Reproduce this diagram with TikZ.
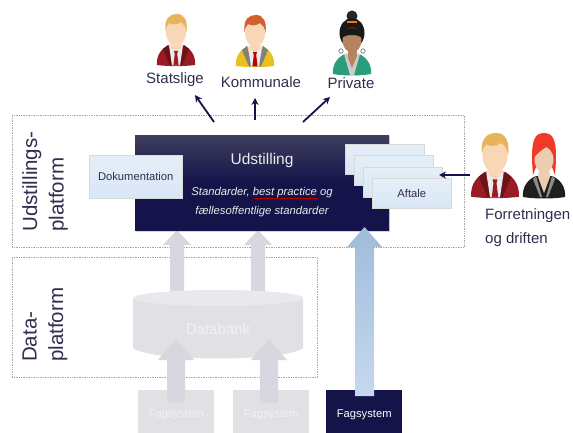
\documentclass[tikz,border=0pt]{standalone}
\usepackage{fontspec}
\setmainfont{Liberation Sans}
\usetikzlibrary{arrows.meta,shadows}
\definecolor{ink}{HTML}{2E2E4E}
\definecolor{navy}{HTML}{14144A}
\definecolor{navytop}{HTML}{3E3E5E}
\definecolor{paleblue}{HTML}{D8E6F5}
\definecolor{greyarrow}{HTML}{D7D7DF}
\definecolor{greybox}{HTML}{E0E0E5}
\definecolor{greytop}{HTML}{E9E9ED}
\definecolor{skin}{HTML}{F8D6B6}
\definecolor{fadetxt}{HTML}{F2F2F5}
\definecolor{gold}{HTML}{E6B45A}
\definecolor{copper}{HTML}{D0602F}
\definecolor{wine}{HTML}{9A1B25}
\definecolor{winedark}{HTML}{6E1218}
\definecolor{mustard}{HTML}{E8C020}
\definecolor{tealgreen}{HTML}{2A9D7C}
\definecolor{brownskin}{HTML}{B5835F}
\definecolor{vivid}{HTML}{F03A28}
\definecolor{arrowtop}{RGB}{160,188,218}
\definecolor{arrowbot}{RGB}{198,216,238}
\tikzset{
  platform/.style={draw=black!35,densely dotted,line width=0.7pt},
  bluebox/.style={draw=white!85!black,line width=0.5pt,top color=paleblue!65!white,bottom color=paleblue,text=ink,font=\fontsize{11.2}{13}\selectfont,inner sep=0pt,anchor=north west,align=center},
  sys/.style={anchor=north west,minimum width=76pt,minimum height=43pt,inner sep=0pt,font=\fontsize{11.2}{13}\selectfont},
  ptr/.style={-{Stealth[length=7pt,width=7pt]},draw=navy,line width=1.8pt},
  lbl/.style={text=ink,font=\fontsize{15}{18}\selectfont,inner sep=0pt},
  side/.style={text=ink,font=\fontsize{20.5}{26.5}\selectfont,rotate=90,align=left,inner sep=0pt,anchor=west}
}
% x, y, scale, hair, jacket, lapel, tie
\newcommand{\manfig}[7]{%
\begin{scope}[shift={(#1,#2)},scale=#3]
 \fill[#5] (-19,51) .. controls (-20,41) and (-14,34) .. (-7,31) -- (7,31) .. controls (14,34) and (20,41) .. (19,51) .. controls (8,52.5) and (-8,52.5) .. (-19,51) -- cycle;
 \fill[#6] (-8,31) -- (-13,35) -- (-6,51.5) -- (-3,51.5) -- cycle;
 \fill[#6] (8,31) -- (13,35) -- (6,51.5) -- (3,51.5) -- cycle;
 \fill[white!92!black] (-7,31) -- (7,31) -- (4,51.5) -- (-4,51.5) -- cycle;
 \fill[#7] (-2,37) -- (2,37) -- (1.2,40) -- (2.6,51.5) -- (-2.6,51.5) -- (-1.2,40) -- cycle;
 \fill[skin] (-5,26) rectangle (5,34);
 \fill[skin] (-5,34) -- (0,37) -- (5,34) -- cycle;
 \fill[skin] (0,18) ellipse [x radius=10,y radius=14];
 \fill[#4] (-10.5,17) .. controls (-12,4) and (-6,0) .. (1,0) .. controls (8,0) and (12,6) .. (10.5,18) .. controls (10,13) and (8,10) .. (5,8) .. controls (1,11) and (-4,11) .. (-7,9) .. controls (-8.5,11) and (-10,13) .. (-10.5,17) -- cycle;
\end{scope}}
\begin{document}
\begin{tikzpicture}[x=1pt,y=-1pt]
\useasboundingbox (0,0) rectangle (573,433);
\fill[white] (0,0) rectangle (573,433);
% platforms
\node[platform,anchor=north west,minimum width=452pt,minimum height=132pt,inner sep=0pt] (udplat) at (12,115) {};
\node[platform,anchor=north west,minimum width=305pt,minimum height=120pt,inner sep=0pt] (dataplat) at (12,257) {};
\node[side] (udlabel) at (45,232) {Udstillings-\\platform};
\node[side] (datalabel) at (45,362) {Data-\\platform};
% upper grey arrows
\fill[greyarrow] (170,293) -- (170,245) -- (163,245) -- (177,230) -- (191,245) -- (184,245) -- (184,293) -- cycle;
\fill[greyarrow] (251,293) -- (251,245) -- (244,245) -- (258,230) -- (272,245) -- (265,245) -- (265,293) -- cycle;
% display box
\node[anchor=north west,minimum width=254pt,minimum height=95pt,inner sep=0pt,top color=navytop,bottom color=navy,middle color=navy,drop shadow={shadow xshift=0.5pt,shadow yshift=-1.5pt,opacity=.3}] (display) at (135,135) {};
\node[text=white!92!black,font=\fontsize{15.5}{18}\selectfont,inner sep=0pt] (udst) at (262,160) {Udstilling};
\node[text=white!92!black,font=\itshape\fontsize{11.3}{19}\selectfont,align=center,inner sep=0pt] (std) at (262,202) {Standarder, best practice og\\fællesoffentlige standarder};
\draw[red!75!black,line width=0.9pt] (254,198) -- (317,198);
% documentation
\node[bluebox,minimum width=93pt,minimum height=43pt] (dok) at (89,155) {Dokumentation};
% agreements
\node[bluebox,minimum width=79pt,minimum height=30pt] (af1) at (345,144) {};
\node[bluebox,minimum width=79pt,minimum height=30pt] (af2) at (354,155) {};
\node[bluebox,minimum width=79pt,minimum height=30pt] (af3) at (363,167) {};
\node[bluebox,minimum width=79pt,minimum height=30pt] (af4) at (372,178) {Aftale};
% databank
\fill[greybox] (133,298) -- (133,348) .. controls (150,362) and (286,362) .. (303,348) -- (303,298) -- cycle;
\fill[greytop] (218,298) ellipse [x radius=85,y radius=8];
\node[text=fadetxt,font=\fontsize{15}{18}\selectfont,inner sep=0pt] (bank) at (218,329) {Databank};
% source systems
\node[sys,fill=greybox,text=fadetxt] (fag1) at (138,390) {\raisebox{-6pt}[0pt][0pt]{Fagsystem}};
\node[sys,fill=greybox,text=fadetxt] (fag2) at (233,390) {\raisebox{-6pt}[0pt][0pt]{Fagsystem}};
\node[sys,fill=navy,text=white] (fag3) at (326,390) {\raisebox{-6pt}[0pt][0pt]{Fagsystem}};
% lower grey arrows
\fill[greyarrow] (167,402) -- (167,360) -- (158,360) -- (176,339) -- (194,360) -- (185,360) -- (185,402) -- cycle;
\fill[greyarrow] (260,403) -- (260,360) -- (251,360) -- (269,339) -- (287,360) -- (278,360) -- (278,403) -- cycle;
% blue arrow
\shade[top color=arrowtop,bottom color=arrowbot] (355,396) -- (355,247) -- (347,247) -- (364.5,227) -- (382,247) -- (374,247) -- (374,396) -- cycle;
% people
\manfig{176}{14}{1}{gold}{wine}{winedark}{wine}
\manfig{255}{15}{1}{copper}{mustard}{gray}{red!75!black}
\manfig{495}{133}{1.25}{gold}{wine}{winedark}{wine}
% private woman
\begin{scope}[shift={(352,10)}]
 \fill[black!85] (0,6) circle (5.5);
 \fill[black!90] (0,23) ellipse [x radius=12.5,y radius=15];
 \fill[orange!90!red] (-5,11) rectangle (5,13);
 \fill[tealgreen] (-19,64) .. controls (-20,54) and (-14,47) .. (-7,44) -- (7,44) .. controls (14,47) and (20,54) .. (19,64) .. controls (8,66) and (-8,66) .. (-19,64) -- cycle;
 \fill[white!80!black] (-8,44) -- (8,44) -- (2,65) -- (-2,65) -- cycle;
 \fill[brownskin] (-4.5,36) rectangle (4.5,47);
 \fill[brownskin] (-4.5,47) -- (0,58) -- (4.5,47) -- cycle;
 \fill[brownskin] (0,30) ellipse [x radius=9.5,y radius=12.5];
 \fill[black!90] (-10,28) .. controls (-9,20) and (-4,18) .. (0,18) .. controls (4,18) and (9,20) .. (10,28) .. controls (6,24) and (-6,24) .. (-10,28) -- cycle;
 \draw[black!45,line width=0.8pt] (-11,41) circle (2.2) (11,41) circle (2.2);
\end{scope}
% operations woman
\begin{scope}[shift={(544,133)}]
 \fill[black!88] (-21,64) .. controls (-22,54) and (-16,46) .. (-8,43) -- (8,43) .. controls (16,46) and (22,54) .. (21,64) .. controls (10,66) and (-10,66) .. (-21,64) -- cycle;
 \fill[black!45] (-8,43) -- (-11,46) -- (-4,64) -- (-2,64) -- cycle;
 \fill[black!45] (8,43) -- (11,46) -- (4,64) -- (2,64) -- cycle;
 \fill[vivid] (-11,42) .. controls (-14,8) and (-10,0) .. (0,0) .. controls (10,0) and (14,8) .. (11,42) -- (8,34) -- (-8,34) -- cycle;
 \fill[skin!90!gray] (-5,36) -- (5,36) -- (6,44) -- (0,60) -- (-6,44) -- cycle;
 \fill[skin!90!gray] (0,26) ellipse [x radius=9.5,y radius=14];
 \fill[vivid] (-10,25) .. controls (-9,12) and (-2,8) .. (6,9) .. controls (9,12) and (10.5,18) .. (10,25) .. controls (8,18) and (5,15) .. (2,14) .. controls (-3,18) and (-7,20) .. (-10,25) -- cycle;
\end{scope}
% people labels
\node[lbl] (stat) at (175,80) {Statslige};
\node[lbl] (komm) at (261,82) {Kommunale};
\node[lbl] (priv) at (351,83.5) {Private};
\node[lbl,anchor=west] (forr1) at (485,216) {Forretningen};
\node[lbl,anchor=west] (forr2) at (485,240) {og driften};
% pointers
\coordinate (a1) at (214,122);
\coordinate (a2) at (255,120);
\coordinate (a3) at (303,122);
\coordinate (a4) at (470,175);
\coordinate (t1) at (195,95);
\coordinate (t2) at (255,98);
\coordinate (t3) at (330,97);
\coordinate (t4) at (439,175);
\draw[ptr] (a1) -- (t1);
\draw[ptr] (a2) -- (t2);
\draw[ptr] (a3) -- (t3);
\draw[ptr] (a4) -- (t4);
\end{tikzpicture}
\end{document}
